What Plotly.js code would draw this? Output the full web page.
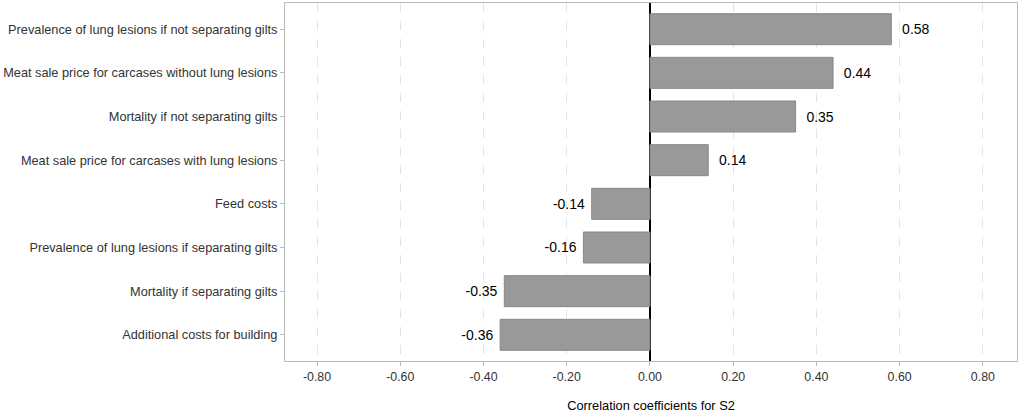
<!DOCTYPE html>
<html>
<head>
<meta charset="utf-8">
<script src="https://cdn.plot.ly/plotly-3.0.1.min.js"></script>
<style>
  html, body { margin: 0; padding: 0; background: #fff; }
  #chart { width: 1021px; height: 415px; }
</style>
</head>
<body>
<div id="chart"></div>
<script>
// bottom to top, as drawn on the y axis
const parameters = [
  'Additional costs for building',
  'Mortality if separating gilts',
  'Prevalence of lung lesions if separating gilts',
  'Feed costs',
  'Meat sale price for carcases with lung lesions',
  'Mortality if not separating gilts',
  'Meat sale price for carcases without lung lesions',
  'Prevalence of lung lesions if not separating gilts'
];
const correlations = [-0.36, -0.35, -0.16, -0.14, 0.14, 0.35, 0.44, 0.58];
const tickValues = [-0.8, -0.6, -0.4, -0.2, 0, 0.2, 0.4, 0.6, 0.8];

const font = 'Liberation Sans, Arial, sans-serif';

const trace = {
  type: 'bar',
  orientation: 'h',
  x: correlations,
  y: parameters,
  marker: { color: '#999999', line: { color: '#888888', width: 1 } },
  // a little air between bar end and label, like the original
  text: correlations.map(v => v < 0 ? v.toFixed(2) + '\u00a0' : '\u00a0\u00a0' + v.toFixed(2)),
  textposition: 'outside',
  cliponaxis: false,
  textfont: { family: font, size: 14, color: '#000' },
  hoverinfo: 'x+y'
};

const layout = {
  width: 1021,
  height: 415,
  margin: { l: 285, r: 4, t: 3, b: 54 },
  paper_bgcolor: '#fff',
  plot_bgcolor: '#fff',
  font: { family: font, size: 12, color: '#333' },
  showlegend: false,
  bargap: 0.29,
  xaxis: {
    range: [-0.877, 0.882],
    tickvals: tickValues,
    ticktext: tickValues.map(v => v.toFixed(2)),
    ticks: 'outside',
    ticklen: 4,
    tickcolor: '#bbb',
    tickfont: { family: font, size: 12.4, color: '#333' },
    showgrid: true,
    gridcolor: '#e3e3e3',
    griddash: 'dash',
    gridwidth: 1,
    zeroline: true,
    zerolinecolor: '#000',
    zerolinewidth: 2,
    showline: true,
    linecolor: '#bbb',
    linewidth: 1,
    mirror: true,
    title: { text: 'Correlation coefficients for S2', font: { family: font, size: 12.8, color: '#000' }, standoff: 18 }
  },
  yaxis: {
    type: 'category',
    categoryorder: 'array',
    categoryarray: parameters,
    range: [-0.6, 7.6],
    ticks: 'outside',
    ticklen: 4,
    tickcolor: '#bbb',
    tickfont: { family: font, size: 12.75, color: '#333' },
    showgrid: false,
    showline: true,
    linecolor: '#bbb',
    linewidth: 1,
    mirror: true
  }
};

Plotly.newPlot('chart', [trace], layout, { displayModeBar: false, staticPlot: true });
</script>
</body>
</html>
